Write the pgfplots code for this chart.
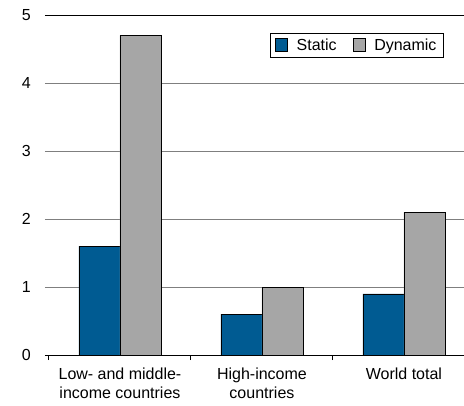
\documentclass[border=0pt]{standalone}
\usepackage{fontspec}
\setmainfont{Liberation Sans}
\usepackage{pgfplots}
\pgfplotsset{compat=1.18}
\definecolor{staticblue}{HTML}{005B92}
\definecolor{dyngray}{HTML}{A6A6A6}
\definecolor{gridgray}{HTML}{7F7F7F}
\begin{document}
\fontsize{16}{19}\selectfont
\begin{tikzpicture}
\begin{axis}[
    at={(0,0)}, anchor=south west,
    scale only axis,
    width=419pt, height=340pt,
    xmin=-0.028, xmax=2.923,
    ymin=0, ymax=5,
    axis x line=bottom,
    axis y line=left,
    axis line style={-, black, line width=1pt},
    y axis line style={draw=none},
    ytick={0,1,2,3,4},
    extra y ticks={5},
    extra y tick labels={5},
    extra y tick style={grid style={black, line width=1pt}},
    ytick style={draw=none},
    ymajorgrids=true,
    grid style={gridgray, line width=1pt},
    yticklabel style={inner sep=0pt, xshift=-9pt},
    /pgf/number format/assume math mode=true,
    xtick={0,1,2},
    xticklabels={,,},
    tick align=outside,
    major tick length=5pt,
    xtick style={black, line width=1pt},
    extra x ticks={0.5,1.5,2.5},
    extra x tick labels={{Low- and middle-\\income countries},{High-income\\countries},{World total}},
    extra x tick style={major tick length=0pt, xticklabel style={align=center, inner sep=0pt, yshift=-13pt}},
    tick label style={font=\fontsize{16}{19}\selectfont},
    legend style={at={(0.952,0.947)}, anchor=north east, legend columns=2,
        draw=black, line width=0.8pt, font=\fontsize{16}{19}\selectfont,
        inner xsep=5pt, inner ysep=3pt,
        /tikz/every odd column/.append style={column sep=7pt},
        /tikz/every even column/.append style={column sep=14pt}},
    legend image code/.code={\draw[#1, line width=0.6pt] (0pt,-6pt) rectangle (12pt,7pt);},
]
\addplot[ybar, bar width=0.289, bar shift=-0.1445, fill=staticblue, draw=black, line width=0.6pt]
    coordinates {(0.5,1.6) (1.5,0.6) (2.5,0.9)};
\addplot[ybar, bar width=0.289, bar shift=0.1445, fill=dyngray, draw=black, line width=0.6pt]
    coordinates {(0.5,4.7) (1.5,1.0) (2.5,2.1)};
\legend{Static, Dynamic}
\end{axis}
\pgfresetboundingbox
\useasboundingbox (-45pt,-50pt) rectangle (419pt,355pt);
\end{tikzpicture}
\end{document}
